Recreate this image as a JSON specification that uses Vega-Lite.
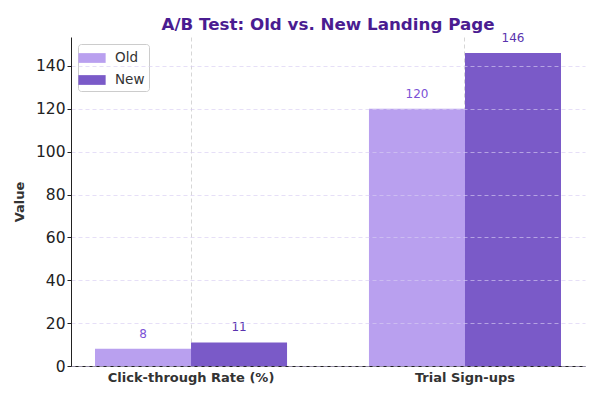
{
  "$schema": "https://vega.github.io/schema/vega-lite/v6.json",
  "width": 514,
  "height": 329,
  "autosize": {"type": "none"},
  "padding": {"left": 71, "top": 37, "right": 15, "bottom": 34},
  "background": "white",
  "title": {
    "text": "A/B Test: Old vs. New Landing Page",
    "font": "DejaVu Sans",
    "fontSize": 16.7,
    "fontWeight": "bold",
    "color": "#4a1c91",
    "anchor": "middle",
    "offset": 5,
    "dy": 7
  },
  "config": {
    "view": {"stroke": null},
    "font": "DejaVu Sans"
  },
  "data": {
    "values": [
      {"metric": "Click-through Rate (%)", "version": "Old", "value": 8},
      {"metric": "Click-through Rate (%)", "version": "New", "value": 11},
      {"metric": "Trial Sign-ups", "version": "Old", "value": 120},
      {"metric": "Trial Sign-ups", "version": "New", "value": 146}
    ]
  },
  "encoding": {
    "x": {
      "field": "metric",
      "type": "nominal",
      "title": null,
      "sort": null,
      "scale": {"paddingInner": 0.299, "paddingOuter": 0.0876},
      "axis": {
        "labelAngle": 0,
        "labelFontSize": 13,
        "labelFontWeight": "bold",
        "labelColor": "#333333",
        "labelPadding": 5,
        "ticks": false,
        "domainColor": "#222222",
        "grid": true,
        "bandPosition": 0.5,
        "gridColor": "#cccccc",
        "gridDash": [4, 3],
        "gridWidth": 0.8
      }
    },
    "xOffset": {
      "field": "version",
      "type": "nominal",
      "scale": {"domain": ["Old", "New"], "paddingInner": 0, "paddingOuter": 0}
    },
    "y": {
      "field": "value",
      "type": "quantitative",
      "title": "Value",
      "scale": {"domain": [0, 153.5], "nice": false},
      "axis": {
        "values": [0, 20, 40, 60, 80, 100, 120, 140],
        "labelFontSize": 15.5,
        "labelColor": "#222222",
        "titleFontSize": 13,
        "titleFontWeight": "bold",
        "titleColor": "#333333",
        "titlePadding": 9,
        "tickSize": 4,
        "tickColor": "#222222",
        "domainColor": "#222222",
        "gridColor": "#d8ccf3",
        "gridDash": [4, 3],
        "gridWidth": 0.8,
        "gridOpacity": 0.8,
        "zindex": 1
      }
    }
  },
  "layer": [
    {
      "mark": {"type": "bar"},
      "encoding": {
        "color": {
          "field": "version",
          "type": "nominal",
          "scale": {"domain": ["Old", "New"], "range": ["#b9a0ef", "#7a5ac8"]},
          "legend": {
            "title": null,
            "orient": "top-left",
            "offset": 7,
            "fillColor": "white",
            "strokeColor": "#cccccc",
            "cornerRadius": 3,
            "padding": 4,
            "labelFontSize": 13.5,
            "labelColor": "#333333",
            "labelOffset": 13,
            "rowPadding": 5,
            "symbolType": "M-1.4,-0.5H1.4V0.5H-1.4Z",
            "symbolSize": 380,
            "symbolStrokeWidth": 0,
            "symbolOpacity": 1
          }
        }
      }
    },
    {
      "mark": {"type": "text", "dy": -8, "fontSize": 12, "baseline": "bottom"},
      "encoding": {
        "text": {"field": "value", "type": "quantitative"},
        "color": {
          "field": "version",
          "type": "nominal",
          "scale": {"domain": ["Old", "New"], "range": ["#7b52d6", "#5a33ae"]},
          "legend": null
        }
      }
    }
  ],
  "resolve": {"scale": {"color": "independent"}}
}
